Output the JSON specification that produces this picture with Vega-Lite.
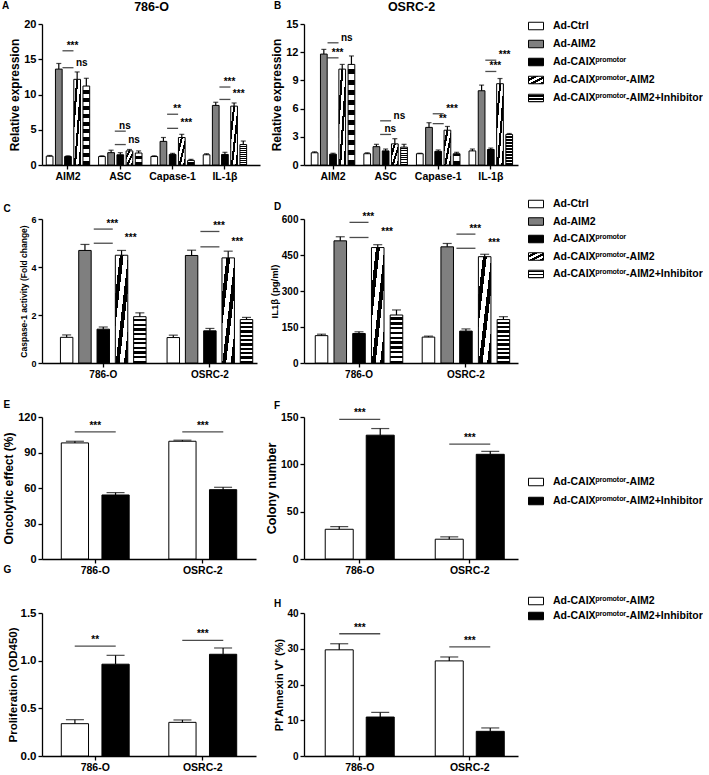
{
"$schema":"https://vega.github.io/schema/vega-lite/v6.json",
"background":"white",
"padding":{"left":2,"top":0,"right":0,"bottom":2},
"params":[
 {"name":"hatch","value":{"gradient":"linear","x1":0,"y1":0,"x2":1,"y2":1,"stops":[
  {"offset":0,"color":"white"},{"offset":0.18,"color":"white"},{"offset":0.18,"color":"black"},{"offset":0.333,"color":"black"},
  {"offset":0.333,"color":"white"},{"offset":0.513,"color":"white"},{"offset":0.513,"color":"black"},{"offset":0.667,"color":"black"},
  {"offset":0.667,"color":"white"},{"offset":0.847,"color":"white"},{"offset":0.847,"color":"black"},{"offset":1,"color":"black"}]}},
 {"name":"check","value":{"gradient":"linear","x1":0,"y1":0,"x2":0,"y2":1,"stops":[
  {"offset":0,"color":"white"},{"offset":0.05,"color":"white"},{"offset":0.05,"color":"black"},{"offset":0.1,"color":"black"},
  {"offset":0.1,"color":"white"},{"offset":0.15,"color":"white"},{"offset":0.15,"color":"black"},{"offset":0.2,"color":"black"},
  {"offset":0.2,"color":"white"},{"offset":0.25,"color":"white"},{"offset":0.25,"color":"black"},{"offset":0.3,"color":"black"},
  {"offset":0.3,"color":"white"},{"offset":0.35,"color":"white"},{"offset":0.35,"color":"black"},{"offset":0.4,"color":"black"},
  {"offset":0.4,"color":"white"},{"offset":0.45,"color":"white"},{"offset":0.45,"color":"black"},{"offset":0.5,"color":"black"},
  {"offset":0.5,"color":"white"},{"offset":0.55,"color":"white"},{"offset":0.55,"color":"black"},{"offset":0.6,"color":"black"},
  {"offset":0.6,"color":"white"},{"offset":0.65,"color":"white"},{"offset":0.65,"color":"black"},{"offset":0.7,"color":"black"},
  {"offset":0.7,"color":"white"},{"offset":0.75,"color":"white"},{"offset":0.75,"color":"black"},{"offset":0.8,"color":"black"},
  {"offset":0.8,"color":"white"},{"offset":0.85,"color":"white"},{"offset":0.85,"color":"black"},{"offset":0.9,"color":"black"},
  {"offset":0.9,"color":"white"},{"offset":0.95,"color":"white"},{"offset":0.95,"color":"black"},{"offset":1,"color":"black"}]}}
],
"config":{
 "view":{"stroke":null},
 "font":"Liberation Sans",
 "axis":{"domainColor":"black","domainWidth":1.3,"tickColor":"black","tickWidth":1.3,"tickSize":4,"labelColor":"black","labelFont":"Liberation Sans","labelFontWeight":"bold","titleColor":"black","titleFont":"Liberation Sans","titleFontWeight":"bold","grid":false,"labelPadding":2,"titlePadding":2,"labelOverlap":false},
 "axisX":{"labelAngle":0},
 "title":{"font":"Liberation Sans","fontWeight":"bold","color":"black","fontSize":10,"anchor":"start","frame":"group","baseline":"alphabetic"},
 "legend":{"labelFont":"Liberation Sans","labelFontWeight":"bold","labelColor":"black","labelFontSize":10.5,"symbolStrokeColor":"black","symbolStrokeWidth":1,"symbolType":"M-1,-0.5H1V0.5H-1Z","symbolSize":225,"labelOffset":9,"labelLimit":400,"padding":0},
 "text":{"font":"Liberation Sans","fontWeight":"bold","color":"black","fontSize":10}
},
"datasets":{
"bars":[
{"p":"A","x":"AIM2","g":"Ad-Ctrl","v":1.25,"hi":1.35},
{"p":"A","x":"AIM2","g":"Ad-AIM2","v":13.6,"hi":14.4},
{"p":"A","x":"AIM2","g":"Ad-CAIXᵖʳᵒᵐᵒᵗᵒʳ","v":1.2,"hi":1.3},
{"p":"A","x":"AIM2","g":"Ad-CAIXᵖʳᵒᵐᵒᵗᵒʳ-AIM2","v":12.15,"hi":13.2},
{"p":"A","x":"AIM2","g":"Ad-CAIXᵖʳᵒᵐᵒᵗᵒʳ-AIM2+Inhibitor","v":11.2,"hi":12.3},
{"p":"A","x":"ASC","g":"Ad-Ctrl","v":1.2,"hi":1.3},
{"p":"A","x":"ASC","g":"Ad-AIM2","v":1.75,"hi":2.1},
{"p":"A","x":"ASC","g":"Ad-CAIXᵖʳᵒᵐᵒᵗᵒʳ","v":1.45,"hi":1.75},
{"p":"A","x":"ASC","g":"Ad-CAIXᵖʳᵒᵐᵒᵗᵒʳ-AIM2","v":2.0,"hi":2.2},
{"p":"A","x":"ASC","g":"Ad-CAIXᵖʳᵒᵐᵒᵗᵒʳ-AIM2+Inhibitor","v":1.7,"hi":2.0},
{"p":"A","x":"Capase-1","g":"Ad-Ctrl","v":1.2,"hi":1.3},
{"p":"A","x":"Capase-1","g":"Ad-AIM2","v":3.35,"hi":3.9},
{"p":"A","x":"Capase-1","g":"Ad-CAIXᵖʳᵒᵐᵒᵗᵒʳ","v":1.5,"hi":1.65},
{"p":"A","x":"Capase-1","g":"Ad-CAIXᵖʳᵒᵐᵒᵗᵒʳ-AIM2","v":3.9,"hi":4.35},
{"p":"A","x":"Capase-1","g":"Ad-CAIXᵖʳᵒᵐᵒᵗᵒʳ-AIM2+Inhibitor","v":0.65,"hi":0.8},
{"p":"A","x":"IL-1β","g":"Ad-Ctrl","v":1.45,"hi":1.6},
{"p":"A","x":"IL-1β","g":"Ad-AIM2","v":8.45,"hi":8.9},
{"p":"A","x":"IL-1β","g":"Ad-CAIXᵖʳᵒᵐᵒᵗᵒʳ","v":1.5,"hi":1.8},
{"p":"A","x":"IL-1β","g":"Ad-CAIXᵖʳᵒᵐᵒᵗᵒʳ-AIM2","v":8.35,"hi":8.8},
{"p":"A","x":"IL-1β","g":"Ad-CAIXᵖʳᵒᵐᵒᵗᵒʳ-AIM2+Inhibitor","v":2.9,"hi":3.4},
{"p":"B","x":"AIM2","g":"Ad-Ctrl","v":1.3,"hi":1.4},
{"p":"B","x":"AIM2","g":"Ad-AIM2","v":11.8,"hi":12.3},
{"p":"B","x":"AIM2","g":"Ad-CAIXᵖʳᵒᵐᵒᵗᵒʳ","v":1.15,"hi":1.25},
{"p":"B","x":"AIM2","g":"Ad-CAIXᵖʳᵒᵐᵒᵗᵒʳ-AIM2","v":10.2,"hi":10.7},
{"p":"B","x":"AIM2","g":"Ad-CAIXᵖʳᵒᵐᵒᵗᵒʳ-AIM2+Inhibitor","v":10.7,"hi":11.6},
{"p":"B","x":"ASC","g":"Ad-Ctrl","v":1.2,"hi":1.3},
{"p":"B","x":"ASC","g":"Ad-AIM2","v":1.95,"hi":2.2},
{"p":"B","x":"ASC","g":"Ad-CAIXᵖʳᵒᵐᵒᵗᵒʳ","v":1.5,"hi":1.7},
{"p":"B","x":"ASC","g":"Ad-CAIXᵖʳᵒᵐᵒᵗᵒʳ-AIM2","v":2.25,"hi":2.8},
{"p":"B","x":"ASC","g":"Ad-CAIXᵖʳᵒᵐᵒᵗᵒʳ-AIM2+Inhibitor","v":1.9,"hi":2.2},
{"p":"B","x":"Capase-1","g":"Ad-Ctrl","v":1.2,"hi":1.25},
{"p":"B","x":"Capase-1","g":"Ad-AIM2","v":4.0,"hi":4.5},
{"p":"B","x":"Capase-1","g":"Ad-CAIXᵖʳᵒᵐᵒᵗᵒʳ","v":1.45,"hi":1.6},
{"p":"B","x":"Capase-1","g":"Ad-CAIXᵖʳᵒᵐᵒᵗᵒʳ-AIM2","v":3.7,"hi":4.1},
{"p":"B","x":"Capase-1","g":"Ad-CAIXᵖʳᵒᵐᵒᵗᵒʳ-AIM2+Inhibitor","v":1.2,"hi":1.35},
{"p":"B","x":"IL-1β","g":"Ad-Ctrl","v":1.5,"hi":1.7},
{"p":"B","x":"IL-1β","g":"Ad-AIM2","v":7.9,"hi":8.5},
{"p":"B","x":"IL-1β","g":"Ad-CAIXᵖʳᵒᵐᵒᵗᵒʳ","v":1.65,"hi":1.8},
{"p":"B","x":"IL-1β","g":"Ad-CAIXᵖʳᵒᵐᵒᵗᵒʳ-AIM2","v":8.65,"hi":9.2},
{"p":"B","x":"IL-1β","g":"Ad-CAIXᵖʳᵒᵐᵒᵗᵒʳ-AIM2+Inhibitor","v":3.25,"hi":3.35},
{"p":"C","x":"786-O","g":"Ad-Ctrl","v":1.07,"hi":1.17},
{"p":"C","x":"786-O","g":"Ad-AIM2","v":4.69,"hi":4.94},
{"p":"C","x":"786-O","g":"Ad-CAIXᵖʳᵒᵐᵒᵗᵒʳ","v":1.41,"hi":1.5},
{"p":"C","x":"786-O","g":"Ad-CAIXᵖʳᵒᵐᵒᵗᵒʳ-AIM2","v":4.49,"hi":4.69},
{"p":"C","x":"786-O","g":"Ad-CAIXᵖʳᵒᵐᵒᵗᵒʳ-AIM2+Inhibitor","v":1.93,"hi":2.09},
{"p":"C","x":"OSRC-2","g":"Ad-Ctrl","v":1.06,"hi":1.16},
{"p":"C","x":"OSRC-2","g":"Ad-AIM2","v":4.48,"hi":4.7},
{"p":"C","x":"OSRC-2","g":"Ad-CAIXᵖʳᵒᵐᵒᵗᵒʳ","v":1.34,"hi":1.44},
{"p":"C","x":"OSRC-2","g":"Ad-CAIXᵖʳᵒᵐᵒᵗᵒʳ-AIM2","v":4.38,"hi":4.66},
{"p":"C","x":"OSRC-2","g":"Ad-CAIXᵖʳᵒᵐᵒᵗᵒʳ-AIM2+Inhibitor","v":1.81,"hi":1.9},
{"p":"D","x":"786-O","g":"Ad-Ctrl","v":114,"hi":120},
{"p":"D","x":"786-O","g":"Ad-AIM2","v":509,"hi":526},
{"p":"D","x":"786-O","g":"Ad-CAIXᵖʳᵒᵐᵒᵗᵒʳ","v":123,"hi":130},
{"p":"D","x":"786-O","g":"Ad-CAIXᵖʳᵒᵐᵒᵗᵒʳ-AIM2","v":481,"hi":493},
{"p":"D","x":"786-O","g":"Ad-CAIXᵖʳᵒᵐᵒᵗᵒʳ-AIM2+Inhibitor","v":200,"hi":221},
{"p":"D","x":"OSRC-2","g":"Ad-Ctrl","v":108,"hi":112},
{"p":"D","x":"OSRC-2","g":"Ad-AIM2","v":484,"hi":498},
{"p":"D","x":"OSRC-2","g":"Ad-CAIXᵖʳᵒᵐᵒᵗᵒʳ","v":133,"hi":142},
{"p":"D","x":"OSRC-2","g":"Ad-CAIXᵖʳᵒᵐᵒᵗᵒʳ-AIM2","v":443,"hi":453},
{"p":"D","x":"OSRC-2","g":"Ad-CAIXᵖʳᵒᵐᵒᵗᵒʳ-AIM2+Inhibitor","v":181,"hi":193},
{"p":"E","x":"786-O","g":"Ad-CAIXᵖʳᵒᵐᵒᵗᵒʳ-AIM2","v":98.1,"hi":99.5},
{"p":"E","x":"786-O","g":"Ad-CAIXᵖʳᵒᵐᵒᵗᵒʳ-AIM2+Inhibitor","v":54.1,"hi":56.1},
{"p":"E","x":"OSRC-2","g":"Ad-CAIXᵖʳᵒᵐᵒᵗᵒʳ-AIM2","v":99.5,"hi":100.4},
{"p":"E","x":"OSRC-2","g":"Ad-CAIXᵖʳᵒᵐᵒᵗᵒʳ-AIM2+Inhibitor","v":58.6,"hi":60.6},
{"p":"F","x":"786-O","g":"Ad-CAIXᵖʳᵒᵐᵒᵗᵒʳ-AIM2","v":31.4,"hi":34.2},
{"p":"F","x":"786-O","g":"Ad-CAIXᵖʳᵒᵐᵒᵗᵒʳ-AIM2+Inhibitor","v":130.8,"hi":137.8},
{"p":"F","x":"OSRC-2","g":"Ad-CAIXᵖʳᵒᵐᵒᵗᵒʳ-AIM2","v":20.9,"hi":23.4},
{"p":"F","x":"OSRC-2","g":"Ad-CAIXᵖʳᵒᵐᵒᵗᵒʳ-AIM2+Inhibitor","v":110.6,"hi":113.7},
{"p":"G","x":"786-O","g":"Ad-CAIXᵖʳᵒᵐᵒᵗᵒʳ-AIM2","v":0.339,"hi":0.381},
{"p":"G","x":"786-O","g":"Ad-CAIXᵖʳᵒᵐᵒᵗᵒʳ-AIM2+Inhibitor","v":0.963,"hi":1.056},
{"p":"G","x":"OSRC-2","g":"Ad-CAIXᵖʳᵒᵐᵒᵗᵒʳ-AIM2","v":0.353,"hi":0.378},
{"p":"G","x":"OSRC-2","g":"Ad-CAIXᵖʳᵒᵐᵒᵗᵒʳ-AIM2+Inhibitor","v":1.067,"hi":1.133},
{"p":"H","x":"786-O","g":"Ad-CAIXᵖʳᵒᵐᵒᵗᵒʳ-AIM2","v":29.7,"hi":31.4},
{"p":"H","x":"786-O","g":"Ad-CAIXᵖʳᵒᵐᵒᵗᵒʳ-AIM2+Inhibitor","v":10.9,"hi":12.2},
{"p":"H","x":"OSRC-2","g":"Ad-CAIXᵖʳᵒᵐᵒᵗᵒʳ-AIM2","v":26.6,"hi":27.7},
{"p":"H","x":"OSRC-2","g":"Ad-CAIXᵖʳᵒᵐᵒᵗᵒʳ-AIM2+Inhibitor","v":6.9,"hi":7.85}
],
"sig":[
{"p":"A","x":"AIM2","pr":"34","lv":16.2,"t":"***"},
{"p":"A","x":"AIM2","pr":"45","lv":13.8,"t":"ns"},
{"p":"A","x":"ASC","pr":"34","lv":4.8,"t":"ns"},
{"p":"A","x":"ASC","pr":"45","lv":2.9,"t":"ns"},
{"p":"A","x":"Capase-1","pr":"34","lv":7.2,"t":"**"},
{"p":"A","x":"Capase-1","pr":"45","lv":5.2,"t":"***"},
{"p":"A","x":"IL-1β","pr":"34","lv":11.06,"t":"***"},
{"p":"A","x":"IL-1β","pr":"45","lv":9.3,"t":"***"},
{"p":"B","x":"AIM2","pr":"34","lv":11.4,"t":"***"},
{"p":"B","x":"AIM2","pr":"45","lv":13.0,"t":"ns"},
{"p":"B","x":"ASC","pr":"34","lv":3.25,"t":"ns"},
{"p":"B","x":"ASC","pr":"45","lv":4.7,"t":"ns"},
{"p":"B","x":"Capase-1","pr":"34","lv":4.4,"t":"**"},
{"p":"B","x":"Capase-1","pr":"45","lv":5.45,"t":"***"},
{"p":"B","x":"IL-1β","pr":"34","lv":9.95,"t":"***"},
{"p":"B","x":"IL-1β","pr":"45","lv":11.15,"t":"***"},
{"p":"C","x":"786-O","pr":"34","lv":5.58,"t":"***"},
{"p":"C","x":"786-O","pr":"45","lv":4.99,"t":"***"},
{"p":"C","x":"OSRC-2","pr":"34","lv":5.48,"t":"***"},
{"p":"C","x":"OSRC-2","pr":"45","lv":4.84,"t":"***"},
{"p":"D","x":"786-O","pr":"34","lv":586,"t":"***"},
{"p":"D","x":"786-O","pr":"45","lv":523,"t":"***"},
{"p":"D","x":"OSRC-2","pr":"34","lv":537,"t":"***"},
{"p":"D","x":"OSRC-2","pr":"45","lv":478,"t":"***"},
{"p":"E","x":"786-O","pr":"12","lv":107.4,"t":"***"},
{"p":"E","x":"OSRC-2","pr":"12","lv":107.4,"t":"***"},
{"p":"F","x":"786-O","pr":"12","lv":147.5,"t":"***"},
{"p":"F","x":"OSRC-2","pr":"12","lv":121.4,"t":"***"},
{"p":"G","x":"786-O","pr":"12","lv":1.153,"t":"**"},
{"p":"G","x":"OSRC-2","pr":"12","lv":1.212,"t":"***"},
{"p":"H","x":"786-O","pr":"12","lv":34.2,"t":"***"},
{"p":"H","x":"OSRC-2","pr":"12","lv":30.5,"t":"***"}
]
},
"concat":[
 {"width":218,"height":141,
  "title":{"text":"A","dx":-40,"dy":3.5,"offset":-7},
  "resolve":{"axis":{"x":"independent"}},
  "layer":[
   {"data":{"name":"bars"},"transform":[{"filter":"datum.p=='A'"}],
    "mark":{"type":"bar","stroke":"black","strokeWidth":1},
    "encoding":{
     "x":{"field":"x","type":"nominal","scale":{"domain":["AIM2","ASC","Capase-1","IL-1β"],"paddingInner":0.123,"paddingOuter":0.145,"align":0.2},"axis":{"orient":"bottom","title":null,"labelFontSize":10.5}},
     "xOffset":{"field":"g","type":"nominal","scale":{"domain":["Ad-Ctrl","Ad-AIM2","Ad-CAIXᵖʳᵒᵐᵒᵗᵒʳ","Ad-CAIXᵖʳᵒᵐᵒᵗᵒʳ-AIM2","Ad-CAIXᵖʳᵒᵐᵒᵗᵒʳ-AIM2+Inhibitor"],"paddingInner":0.27,"paddingOuter":0.135}},
     "y":{"field":"v","type":"quantitative","scale":{"domain":[0,20],"nice":false},"axis":{"values":[0,5,10,15,20],"tickCount":12,"format":"d","labelOverlap":false,"title":"Relative expression","titleFontSize":12,"labelFontSize":11}},
     "fill":{"field":"g","type":"nominal","scale":{"domain":["Ad-Ctrl","Ad-AIM2","Ad-CAIXᵖʳᵒᵐᵒᵗᵒʳ","Ad-CAIXᵖʳᵒᵐᵒᵗᵒʳ-AIM2","Ad-CAIXᵖʳᵒᵐᵒᵗᵒʳ-AIM2+Inhibitor"],"range":["white","#7f7f7f","black",{"expr":"hatch"},{"expr":"check"}]},
      "legend":{"orient":"none","legendX":486,"legendY":-6,"title":null,"rowPadding":4}}}},
   {"data":{"name":"bars"},"transform":[{"filter":"datum.p=='A'"}],
    "mark":{"type":"rule","color":"black","strokeWidth":1.2},
    "encoding":{
     "x":{"field":"x","type":"nominal","axis":{"orient":"top","title":"786-O","labels":false,"ticks":false,"domain":false,"titleFontSize":12.5,"titlePadding":14,"titleBaseline":"alphabetic"}},
     "xOffset":{"field":"g","type":"nominal"},
     "y":{"field":"v","type":"quantitative"},"y2":{"field":"hi"}}},
   {"data":{"name":"bars"},"transform":[{"filter":"datum.p=='A'"}],
    "mark":{"type":"tick","color":"black","size":5,"thickness":1.2},
    "encoding":{"x":{"field":"x","type":"nominal","axis":null},"xOffset":{"field":"g","type":"nominal"},"y":{"field":"hi","type":"quantitative"}}},
   {"data":{"name":"sig"},"transform":[{"filter":"datum.p=='A' && datum.pr=='34'"}],
    "mark":{"type":"tick","color":"black","size":11,"thickness":1.3},
    "encoding":{"x":{"field":"x","type":"nominal","bandPosition":0.6,"axis":null},"y":{"field":"lv","type":"quantitative"}}},
   {"data":{"name":"sig"},"transform":[{"filter":"datum.p=='A' && datum.pr=='45'"}],
    "mark":{"type":"tick","color":"black","size":11,"thickness":1.3},
    "encoding":{"x":{"field":"x","type":"nominal","bandPosition":0.8,"axis":null},"y":{"field":"lv","type":"quantitative"}}},
   {"data":{"name":"sig"},"transform":[{"filter":"datum.p=='A' && datum.pr=='34'"}],
    "mark":{"type":"text","baseline":"alphabetic","dy":-2},
    "encoding":{"x":{"field":"x","type":"nominal","bandPosition":0.6,"axis":null},"y":{"field":"lv","type":"quantitative"},"text":{"field":"t"}}},
   {"data":{"name":"sig"},"transform":[{"filter":"datum.p=='A' && datum.pr=='45'"}],
    "mark":{"type":"text","baseline":"alphabetic","dy":-2},
    "encoding":{"x":{"field":"x","type":"nominal","bandPosition":0.8,"axis":null},"y":{"field":"lv","type":"quantitative"},"text":{"field":"t"}}}
  ]},
 {"width":214,"height":141,
  "title":{"text":"B","dx":-30,"dy":3.5,"offset":-7},
  "resolve":{"axis":{"x":"independent"}},
  "layer":[
   {"data":{"name":"bars"},"transform":[{"filter":"datum.p=='B'"}],
    "mark":{"type":"bar","stroke":"black","strokeWidth":1},
    "encoding":{
     "x":{"field":"x","type":"nominal","scale":{"domain":["AIM2","ASC","Capase-1","IL-1β"],"paddingInner":0.125,"paddingOuter":0.097,"align":0.59},"axis":{"orient":"bottom","title":null,"labelFontSize":10.5}},
     "xOffset":{"field":"g","type":"nominal","scale":{"domain":["Ad-Ctrl","Ad-AIM2","Ad-CAIXᵖʳᵒᵐᵒᵗᵒʳ","Ad-CAIXᵖʳᵒᵐᵒᵗᵒʳ-AIM2","Ad-CAIXᵖʳᵒᵐᵒᵗᵒʳ-AIM2+Inhibitor"],"paddingInner":0.27,"paddingOuter":0.135}},
     "y":{"field":"v","type":"quantitative","scale":{"domain":[0,15],"nice":false},"axis":{"values":[0,3,6,9,12,15],"tickCount":12,"format":"d","labelOverlap":false,"title":"Relative expression","titleFontSize":12,"labelFontSize":11}},
     "fill":{"field":"g","type":"nominal","scale":{"domain":["Ad-Ctrl","Ad-AIM2","Ad-CAIXᵖʳᵒᵐᵒᵗᵒʳ","Ad-CAIXᵖʳᵒᵐᵒᵗᵒʳ-AIM2","Ad-CAIXᵖʳᵒᵐᵒᵗᵒʳ-AIM2+Inhibitor"],"range":["white","#7f7f7f","black",{"expr":"hatch"},{"expr":"check"}]},
      "legend":null}}},
   {"data":{"name":"bars"},"transform":[{"filter":"datum.p=='B'"}],
    "mark":{"type":"rule","color":"black","strokeWidth":1.2},
    "encoding":{
     "x":{"field":"x","type":"nominal","axis":{"orient":"top","title":"OSRC-2","labels":false,"ticks":false,"domain":false,"titleFontSize":12.5,"titlePadding":14,"titleBaseline":"alphabetic"}},
     "xOffset":{"field":"g","type":"nominal"},
     "y":{"field":"v","type":"quantitative"},"y2":{"field":"hi"}}},
   {"data":{"name":"bars"},"transform":[{"filter":"datum.p=='B'"}],
    "mark":{"type":"tick","color":"black","size":5,"thickness":1.2},
    "encoding":{"x":{"field":"x","type":"nominal","axis":null},"xOffset":{"field":"g","type":"nominal"},"y":{"field":"hi","type":"quantitative"}}},
   {"data":{"name":"sig"},"transform":[{"filter":"datum.p=='B' && datum.pr=='34'"}],
    "mark":{"type":"tick","color":"black","size":11,"thickness":1.3},
    "encoding":{"x":{"field":"x","type":"nominal","bandPosition":0.6,"axis":null},"y":{"field":"lv","type":"quantitative"}}},
   {"data":{"name":"sig"},"transform":[{"filter":"datum.p=='B' && datum.pr=='45'"}],
    "mark":{"type":"tick","color":"black","size":11,"thickness":1.3},
    "encoding":{"x":{"field":"x","type":"nominal","bandPosition":0.8,"axis":null},"y":{"field":"lv","type":"quantitative"}}},
   {"data":{"name":"sig"},"transform":[{"filter":"datum.p=='B' && datum.pr=='34'"}],
    "mark":{"type":"text","baseline":"alphabetic","dy":-2},
    "encoding":{"x":{"field":"x","type":"nominal","bandPosition":0.6,"axis":null},"y":{"field":"lv","type":"quantitative"},"text":{"field":"t"}}},
   {"data":{"name":"sig"},"transform":[{"filter":"datum.p=='B' && datum.pr=='45'"}],
    "mark":{"type":"text","baseline":"alphabetic","dy":-2},
    "encoding":{"x":{"field":"x","type":"nominal","bandPosition":0.8,"axis":null},"y":{"field":"lv","type":"quantitative"},"text":{"field":"t"}}}
  ]},
 {"width":215,"height":144,
  "title":{"text":"C","dx":-38.5,"dy":31,"offset":13},
  "layer":[
   {"data":{"name":"bars"},"transform":[{"filter":"datum.p=='C'"}],
    "mark":{"type":"bar","stroke":"black","strokeWidth":1},
    "encoding":{
     "x":{"field":"x","type":"nominal","scale":{"domain":["786-O","OSRC-2"],"paddingInner":0.142,"paddingOuter":0.079,"align":0.92},"axis":{"title":null,"labelFontSize":10}},
     "xOffset":{"field":"g","type":"nominal","scale":{"domain":["Ad-Ctrl","Ad-AIM2","Ad-CAIXᵖʳᵒᵐᵒᵗᵒʳ","Ad-CAIXᵖʳᵒᵐᵒᵗᵒʳ-AIM2","Ad-CAIXᵖʳᵒᵐᵒᵗᵒʳ-AIM2+Inhibitor"],"paddingInner":0.32,"paddingOuter":0.16}},
     "y":{"field":"v","type":"quantitative","scale":{"domain":[0,6],"nice":false},"axis":{"values":[0,2,4,6],"tickCount":12,"format":"d","labelOverlap":false,"title":"Caspase-1 activity (Fold change)","titleFontSize":8.5,"labelFontSize":9}},
     "fill":{"field":"g","type":"nominal","scale":{"domain":["Ad-Ctrl","Ad-AIM2","Ad-CAIXᵖʳᵒᵐᵒᵗᵒʳ","Ad-CAIXᵖʳᵒᵐᵒᵗᵒʳ-AIM2","Ad-CAIXᵖʳᵒᵐᵒᵗᵒʳ-AIM2+Inhibitor"],"range":["white","#7f7f7f","black",{"expr":"hatch"},{"expr":"check"}]},
      "legend":{"orient":"none","legendX":486,"legendY":-23,"title":null,"rowPadding":3.5}}}},
   {"data":{"name":"bars"},"transform":[{"filter":"datum.p=='C'"}],
    "mark":{"type":"rule","color":"black","strokeWidth":1.2},
    "encoding":{"x":{"field":"x","type":"nominal"},"xOffset":{"field":"g","type":"nominal"},"y":{"field":"v","type":"quantitative"},"y2":{"field":"hi"}}},
   {"data":{"name":"bars"},"transform":[{"filter":"datum.p=='C'"}],
    "mark":{"type":"tick","color":"black","size":9,"thickness":1.2},
    "encoding":{"x":{"field":"x","type":"nominal"},"xOffset":{"field":"g","type":"nominal"},"y":{"field":"hi","type":"quantitative"}}},
   {"data":{"name":"sig"},"transform":[{"filter":"datum.p=='C' && datum.pr=='34'"}],
    "mark":{"type":"tick","color":"black","size":19,"thickness":1.3},
    "encoding":{"x":{"field":"x","type":"nominal","bandPosition":0.6},"y":{"field":"lv","type":"quantitative"}}},
   {"data":{"name":"sig"},"transform":[{"filter":"datum.p=='C' && datum.pr=='45'"}],
    "mark":{"type":"tick","color":"black","size":19,"thickness":1.3},
    "encoding":{"x":{"field":"x","type":"nominal","bandPosition":0.8},"y":{"field":"lv","type":"quantitative"}}},
   {"data":{"name":"sig"},"transform":[{"filter":"datum.p=='C' && datum.pr=='34'"}],
    "mark":{"type":"text","baseline":"alphabetic","dy":-2},
    "encoding":{"x":{"field":"x","type":"nominal","bandPosition":0.6},"y":{"field":"lv","type":"quantitative"},"text":{"field":"t"}}},
   {"data":{"name":"sig"},"transform":[{"filter":"datum.p=='C' && datum.pr=='45'"}],
    "mark":{"type":"text","baseline":"alphabetic","dy":-2},
    "encoding":{"x":{"field":"x","type":"nominal","bandPosition":0.8},"y":{"field":"lv","type":"quantitative"},"text":{"field":"t"}}}
  ]},
 {"width":214,"height":144,
  "title":{"text":"D","dx":-30,"dy":13,"offset":13},
  "layer":[
   {"data":{"name":"bars"},"transform":[{"filter":"datum.p=='D'"}],
    "mark":{"type":"bar","stroke":"black","strokeWidth":1},
    "encoding":{
     "x":{"field":"x","type":"nominal","scale":{"domain":["786-O","OSRC-2"],"paddingInner":0.124,"paddingOuter":0.0626,"align":0.61},"axis":{"title":null,"labelFontSize":10}},
     "xOffset":{"field":"g","type":"nominal","scale":{"domain":["Ad-Ctrl","Ad-AIM2","Ad-CAIXᵖʳᵒᵐᵒᵗᵒʳ","Ad-CAIXᵖʳᵒᵐᵒᵗᵒʳ-AIM2","Ad-CAIXᵖʳᵒᵐᵒᵗᵒʳ-AIM2+Inhibitor"],"paddingInner":0.33,"paddingOuter":0.165}},
     "y":{"field":"v","type":"quantitative","scale":{"domain":[0,600],"nice":false},"axis":{"values":[0,150,300,450,600],"tickCount":12,"format":"d","labelOverlap":false,"title":"IL1β (pg/ml)","titleFontSize":9.5,"labelFontSize":10}},
     "fill":{"field":"g","type":"nominal","scale":{"domain":["Ad-Ctrl","Ad-AIM2","Ad-CAIXᵖʳᵒᵐᵒᵗᵒʳ","Ad-CAIXᵖʳᵒᵐᵒᵗᵒʳ-AIM2","Ad-CAIXᵖʳᵒᵐᵒᵗᵒʳ-AIM2+Inhibitor"],"range":["white","#7f7f7f","black",{"expr":"hatch"},{"expr":"check"}]},
      "legend":null}}},
   {"data":{"name":"bars"},"transform":[{"filter":"datum.p=='D'"}],
    "mark":{"type":"rule","color":"black","strokeWidth":1.2},
    "encoding":{"x":{"field":"x","type":"nominal"},"xOffset":{"field":"g","type":"nominal"},"y":{"field":"v","type":"quantitative"},"y2":{"field":"hi"}}},
   {"data":{"name":"bars"},"transform":[{"filter":"datum.p=='D'"}],
    "mark":{"type":"tick","color":"black","size":9,"thickness":1.2},
    "encoding":{"x":{"field":"x","type":"nominal"},"xOffset":{"field":"g","type":"nominal"},"y":{"field":"hi","type":"quantitative"}}},
   {"data":{"name":"sig"},"transform":[{"filter":"datum.p=='D' && datum.pr=='34'"}],
    "mark":{"type":"tick","color":"black","size":19,"thickness":1.3},
    "encoding":{"x":{"field":"x","type":"nominal","bandPosition":0.6},"y":{"field":"lv","type":"quantitative"}}},
   {"data":{"name":"sig"},"transform":[{"filter":"datum.p=='D' && datum.pr=='45'"}],
    "mark":{"type":"tick","color":"black","size":19,"thickness":1.3},
    "encoding":{"x":{"field":"x","type":"nominal","bandPosition":0.8},"y":{"field":"lv","type":"quantitative"}}},
   {"data":{"name":"sig"},"transform":[{"filter":"datum.p=='D' && datum.pr=='34'"}],
    "mark":{"type":"text","baseline":"alphabetic","dy":-2},
    "encoding":{"x":{"field":"x","type":"nominal","bandPosition":0.6},"y":{"field":"lv","type":"quantitative"},"text":{"field":"t"}}},
   {"data":{"name":"sig"},"transform":[{"filter":"datum.p=='D' && datum.pr=='45'"}],
    "mark":{"type":"text","baseline":"alphabetic","dy":-2},
    "encoding":{"x":{"field":"x","type":"nominal","bandPosition":0.8},"y":{"field":"lv","type":"quantitative"},"text":{"field":"t"}}}
  ]},
 {"width":214,"height":142,
  "title":{"text":"E","dx":-38.5,"dy":13,"offset":14},
  "layer":[
   {"data":{"name":"bars"},"transform":[{"filter":"datum.p=='E'"}],
    "mark":{"type":"bar","stroke":"black","strokeWidth":1},
    "encoding":{
     "x":{"field":"x","type":"nominal","scale":{"domain":["786-O","OSRC-2"],"paddingInner":0.244,"paddingOuter":0.117,"align":0.5},"axis":{"title":null,"labelFontSize":10.5}},
     "xOffset":{"field":"g","type":"nominal","scale":{"domain":["Ad-CAIXᵖʳᵒᵐᵒᵗᵒʳ-AIM2","Ad-CAIXᵖʳᵒᵐᵒᵗᵒʳ-AIM2+Inhibitor"],"paddingInner":0.33,"paddingOuter":0.165}},
     "y":{"field":"v","type":"quantitative","scale":{"domain":[0,120],"nice":false},"axis":{"values":[0,30,60,90,120],"tickCount":12,"format":"d","labelOverlap":false,"title":"Oncolytic effect (%)","titleFontSize":12,"labelFontSize":11}},
     "fill":{"field":"g","type":"nominal","scale":{"domain":["Ad-CAIXᵖʳᵒᵐᵒᵗᵒʳ-AIM2","Ad-CAIXᵖʳᵒᵐᵒᵗᵒʳ-AIM2+Inhibitor"],"range":["white","black"]},
      "legend":{"orient":"none","legendX":486,"legendY":57,"title":null,"rowPadding":5}}}},
   {"data":{"name":"bars"},"transform":[{"filter":"datum.p=='E'"}],
    "mark":{"type":"rule","color":"black","strokeWidth":1.2},
    "encoding":{"x":{"field":"x","type":"nominal"},"xOffset":{"field":"g","type":"nominal"},"y":{"field":"v","type":"quantitative"},"y2":{"field":"hi"}}},
   {"data":{"name":"bars"},"transform":[{"filter":"datum.p=='E'"}],
    "mark":{"type":"tick","color":"black","size":18,"thickness":1.2},
    "encoding":{"x":{"field":"x","type":"nominal"},"xOffset":{"field":"g","type":"nominal"},"y":{"field":"hi","type":"quantitative"}}},
   {"data":{"name":"sig"},"transform":[{"filter":"datum.p=='E'"}],
    "mark":{"type":"tick","color":"black","size":41,"thickness":1.3},
    "encoding":{"x":{"field":"x","type":"nominal"},"y":{"field":"lv","type":"quantitative"}}},
   {"data":{"name":"sig"},"transform":[{"filter":"datum.p=='E'"}],
    "mark":{"type":"text","baseline":"alphabetic","dy":-3},
    "encoding":{"x":{"field":"x","type":"nominal"},"y":{"field":"lv","type":"quantitative"},"text":{"field":"t"}}}
  ]},
 {"width":214,"height":142,
  "title":{"text":"F","dx":-30,"dy":17,"offset":14},
  "layer":[
   {"data":{"name":"bars"},"transform":[{"filter":"datum.p=='F'"}],
    "mark":{"type":"bar","stroke":"black","strokeWidth":1},
    "encoding":{
     "x":{"field":"x","type":"nominal","scale":{"domain":["786-O","OSRC-2"],"paddingInner":0.255,"paddingOuter":0.1,"align":0.67},"axis":{"title":null,"labelFontSize":10.5}},
     "xOffset":{"field":"g","type":"nominal","scale":{"domain":["Ad-CAIXᵖʳᵒᵐᵒᵗᵒʳ-AIM2","Ad-CAIXᵖʳᵒᵐᵒᵗᵒʳ-AIM2+Inhibitor"],"paddingInner":0.317,"paddingOuter":0.158}},
     "y":{"field":"v","type":"quantitative","scale":{"domain":[0,150],"nice":false},"axis":{"values":[0,50,100,150],"tickCount":12,"format":"d","labelOverlap":false,"title":"Colony number","titleFontSize":12.5,"labelFontSize":10.5}},
     "fill":{"field":"g","type":"nominal","scale":{"domain":["Ad-CAIXᵖʳᵒᵐᵒᵗᵒʳ-AIM2","Ad-CAIXᵖʳᵒᵐᵒᵗᵒʳ-AIM2+Inhibitor"],"range":["white","black"]},
      "legend":null}}},
   {"data":{"name":"bars"},"transform":[{"filter":"datum.p=='F'"}],
    "mark":{"type":"rule","color":"black","strokeWidth":1.2},
    "encoding":{"x":{"field":"x","type":"nominal"},"xOffset":{"field":"g","type":"nominal"},"y":{"field":"v","type":"quantitative"},"y2":{"field":"hi"}}},
   {"data":{"name":"bars"},"transform":[{"filter":"datum.p=='F'"}],
    "mark":{"type":"tick","color":"black","size":18,"thickness":1.2},
    "encoding":{"x":{"field":"x","type":"nominal"},"xOffset":{"field":"g","type":"nominal"},"y":{"field":"hi","type":"quantitative"}}},
   {"data":{"name":"sig"},"transform":[{"filter":"datum.p=='F'"}],
    "mark":{"type":"tick","color":"black","size":41,"thickness":1.3},
    "encoding":{"x":{"field":"x","type":"nominal"},"y":{"field":"lv","type":"quantitative"}}},
   {"data":{"name":"sig"},"transform":[{"filter":"datum.p=='F'"}],
    "mark":{"type":"text","baseline":"alphabetic","dy":-3},
    "encoding":{"x":{"field":"x","type":"nominal"},"y":{"field":"lv","type":"quantitative"},"text":{"field":"t"}}}
  ]},
 {"width":214,"height":143,
  "title":{"text":"G","dx":-38.5,"dy":-4,"offset":14},
  "layer":[
   {"data":{"name":"bars"},"transform":[{"filter":"datum.p=='G'"}],
    "mark":{"type":"bar","stroke":"black","strokeWidth":1},
    "encoding":{
     "x":{"field":"x","type":"nominal","scale":{"domain":["786-O","OSRC-2"],"paddingInner":0.244,"paddingOuter":0.117,"align":0.5},"axis":{"title":null,"labelFontSize":10.5}},
     "xOffset":{"field":"g","type":"nominal","scale":{"domain":["Ad-CAIXᵖʳᵒᵐᵒᵗᵒʳ-AIM2","Ad-CAIXᵖʳᵒᵐᵒᵗᵒʳ-AIM2+Inhibitor"],"paddingInner":0.33,"paddingOuter":0.165}},
     "y":{"field":"v","type":"quantitative","scale":{"domain":[0,1.5],"nice":false},"axis":{"values":[0,0.5,1,1.5],"tickCount":12,"labelOverlap":false,"format":".1f","title":"Proliferation (OD450)","titleFontSize":11.5,"labelFontSize":11.5}},
     "fill":{"field":"g","type":"nominal","scale":{"domain":["Ad-CAIXᵖʳᵒᵐᵒᵗᵒʳ-AIM2","Ad-CAIXᵖʳᵒᵐᵒᵗᵒʳ-AIM2+Inhibitor"],"range":["white","black"]},
      "legend":{"orient":"none","legendX":486,"legendY":-20,"title":null,"rowPadding":1}}}},
   {"data":{"name":"bars"},"transform":[{"filter":"datum.p=='G'"}],
    "mark":{"type":"rule","color":"black","strokeWidth":1.2},
    "encoding":{"x":{"field":"x","type":"nominal"},"xOffset":{"field":"g","type":"nominal"},"y":{"field":"v","type":"quantitative"},"y2":{"field":"hi"}}},
   {"data":{"name":"bars"},"transform":[{"filter":"datum.p=='G'"}],
    "mark":{"type":"tick","color":"black","size":18,"thickness":1.2},
    "encoding":{"x":{"field":"x","type":"nominal"},"xOffset":{"field":"g","type":"nominal"},"y":{"field":"hi","type":"quantitative"}}},
   {"data":{"name":"sig"},"transform":[{"filter":"datum.p=='G'"}],
    "mark":{"type":"tick","color":"black","size":41,"thickness":1.3},
    "encoding":{"x":{"field":"x","type":"nominal"},"y":{"field":"lv","type":"quantitative"}}},
   {"data":{"name":"sig"},"transform":[{"filter":"datum.p=='G'"}],
    "mark":{"type":"text","baseline":"alphabetic","dy":-3},
    "encoding":{"x":{"field":"x","type":"nominal"},"y":{"field":"lv","type":"quantitative"},"text":{"field":"t"}}}
  ]},
 {"width":214,"height":143,
  "title":{"text":"H","dx":-30,"dy":8,"offset":7},
  "layer":[
   {"data":{"name":"bars"},"transform":[{"filter":"datum.p=='H'"}],
    "mark":{"type":"bar","stroke":"black","strokeWidth":1},
    "encoding":{
     "x":{"field":"x","type":"nominal","scale":{"domain":["786-O","OSRC-2"],"paddingInner":0.255,"paddingOuter":0.1,"align":0.67},"axis":{"title":null,"labelFontSize":10.5}},
     "xOffset":{"field":"g","type":"nominal","scale":{"domain":["Ad-CAIXᵖʳᵒᵐᵒᵗᵒʳ-AIM2","Ad-CAIXᵖʳᵒᵐᵒᵗᵒʳ-AIM2+Inhibitor"],"paddingInner":0.317,"paddingOuter":0.158}},
     "y":{"field":"v","type":"quantitative","scale":{"domain":[0,40],"nice":false},"axis":{"values":[0,10,20,30,40],"tickCount":12,"format":"d","labelOverlap":false,"title":"PI⁺Annexin V⁺ (%)","titleFontSize":11,"labelFontSize":10}},
     "fill":{"field":"g","type":"nominal","scale":{"domain":["Ad-CAIXᵖʳᵒᵐᵒᵗᵒʳ-AIM2","Ad-CAIXᵖʳᵒᵐᵒᵗᵒʳ-AIM2+Inhibitor"],"range":["white","black"]},
      "legend":null}}},
   {"data":{"name":"bars"},"transform":[{"filter":"datum.p=='H'"}],
    "mark":{"type":"rule","color":"black","strokeWidth":1.2},
    "encoding":{"x":{"field":"x","type":"nominal"},"xOffset":{"field":"g","type":"nominal"},"y":{"field":"v","type":"quantitative"},"y2":{"field":"hi"}}},
   {"data":{"name":"bars"},"transform":[{"filter":"datum.p=='H'"}],
    "mark":{"type":"tick","color":"black","size":18,"thickness":1.2},
    "encoding":{"x":{"field":"x","type":"nominal"},"xOffset":{"field":"g","type":"nominal"},"y":{"field":"hi","type":"quantitative"}}},
   {"data":{"name":"sig"},"transform":[{"filter":"datum.p=='H'"}],
    "mark":{"type":"tick","color":"black","size":41,"thickness":1.3},
    "encoding":{"x":{"field":"x","type":"nominal"},"y":{"field":"lv","type":"quantitative"}}},
   {"data":{"name":"sig"},"transform":[{"filter":"datum.p=='H'"}],
    "mark":{"type":"text","baseline":"alphabetic","dy":-3},
    "encoding":{"x":{"field":"x","type":"nominal"},"y":{"field":"lv","type":"quantitative"},"text":{"field":"t"}}}
  ]}
],
"columns":2,
"spacing":{"row":54,"column":44},
"bounds":"flush",
"align":"each",
"resolve":{"scale":{"fill":"independent","xOffset":"independent"},"legend":{"fill":"independent"}}
}
